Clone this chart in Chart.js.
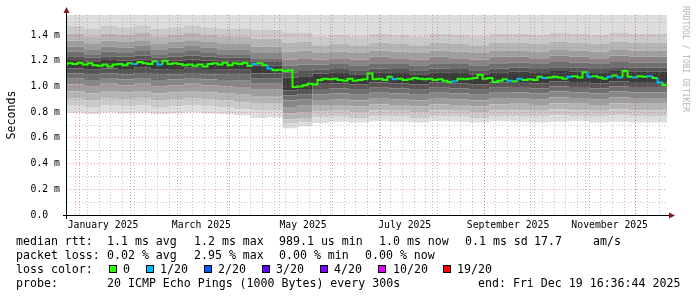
<!DOCTYPE html>
<html lang="en">
<head>
<meta charset="UTF-8">
<title>SmokePing - last 360 days</title>
<script src="https://cdn.jsdelivr.net/npm/chart.js@4.4.1/dist/chart.umd.min.js"></script>
<style>
  html, body { margin: 0; padding: 0; background: #fff; }
  #wrap { width: 697px; height: 297px; }
</style>
</head>
<body>
<div id="wrap"><canvas id="chart" width="697" height="297"></canvas></div>
<script>
// time axis: days since 2025-01-01 00:00, window = last 360 days ending Dec 19 16:36:44
const xStart = -7.31;
const xEnd = 352.69;
const monthStarts = [0, 31, 59, 90, 120, 151, 181, 212, 243, 273, 304, 334];
const xLabelDays = [14.3, 73.3, 134.3, 195.3, 257.3, 318.3];
const xLabels = ['January 2025', 'March 2025', 'May 2025', 'July 2025', 'September 2025', 'November 2025'];

// y axis in ms (labels use the "m" = milli prefix like rrdtool)
const yMax = 1.5556;
const yTickValues = [0, 0.1, 0.2, 0.3, 0.4, 0.5, 0.6, 0.7, 0.8, 0.9, 1.0, 1.1, 1.2, 1.3, 1.4, 1.5];
const yTickLabels = ['0.0  ', '', '0.2 m', '', '0.4 m', '', '0.6 m', '', '0.8 m', '', '1.0 m', '', '1.2 m', '', '1.4 m', ''];

// median rtt (ms)
const medianDays = [-7.3, -4, -1, 2, 5, 8, 11, 14, 17, 20, 23, 26, 29, 32, 35, 38, 41, 44, 47, 50,
  53, 56, 59, 62, 65, 68, 71, 74, 77, 80, 83, 86, 89, 92, 95, 98, 101, 104, 107, 110,
  113, 116, 119, 122, 125, 128, 131, 134, 137, 140, 143, 146, 149, 152, 155, 158, 161, 164, 167, 170,
  173, 176, 179, 182, 185, 188, 191, 194, 197, 200, 203, 206, 209, 212, 215, 218, 221, 224, 227, 230,
  233, 236, 239, 242, 245, 248, 251, 254, 257, 260, 263, 266, 269, 272, 275, 278, 281, 284, 287, 290,
  293, 296, 299, 302, 305, 308, 311, 314, 317, 320, 323, 326, 329, 332, 335, 338, 341, 344, 347, 350, 352.7];
const medianMs = [1.16, 1.18, 1.175, 1.185, 1.17, 1.18, 1.165, 1.16, 1.17, 1.155,
  1.17, 1.175, 1.165, 1.18, 1.175, 1.19, 1.18, 1.175, 1.195, 1.17,
  1.20, 1.175, 1.18, 1.175, 1.165, 1.17, 1.16, 1.17, 1.155, 1.175,
  1.18, 1.17, 1.185, 1.165, 1.18, 1.175, 1.185, 1.16, 1.175, 1.18,
  1.165, 1.14, 1.125, 1.13, 1.12, 1.125, 0.995, 1.0, 1.01, 1.02,
  1.015, 1.05, 1.06, 1.055, 1.06, 1.05, 1.045, 1.06, 1.045, 1.05,
  1.055, 1.10, 1.055, 1.06, 1.05, 1.075, 1.055, 1.06, 1.05, 1.055,
  1.065, 1.06, 1.055, 1.06, 1.05, 1.055, 1.045, 1.035, 1.04, 1.06,
  1.055, 1.06, 1.065, 1.09, 1.06, 1.065, 1.035, 1.045, 1.055, 1.045,
  1.04, 1.06, 1.05, 1.055, 1.05, 1.075, 1.065, 1.07, 1.075, 1.07,
  1.06, 1.075, 1.08, 1.07, 1.11, 1.075, 1.08, 1.07, 1.06, 1.075,
  1.085, 1.07, 1.12, 1.075, 1.07, 1.08, 1.075, 1.08, 1.065, 1.03,
  1.01];
// steps where 1 of 20 pings was lost
const loss1Days = [32, 47, 104, 113, 188, 224, 257, 263, 278, 293, 305, 317, 323, 332, 341, 347];

// smoke: ping spread boundaries (ms), from the lowest ping up; the top pings are clipped by the graph
const smokeDays = [-7.3, 3, 13, 23, 33, 43, 53, 63, 73, 83, 93, 103, 113, 122, 131, 140, 150,
  162, 174, 186, 198, 210, 222, 234, 246, 258, 270, 282, 294, 306, 318, 330, 342, 352.7];
const smokeL0 = [0.79, 0.795, 0.785, 0.80, 0.79, 0.795, 0.785, 0.79, 0.80, 0.79, 0.785, 0.775, 0.755, 0.76, 0.675, 0.69,
  0.715, 0.725, 0.72, 0.73, 0.725, 0.72, 0.73, 0.725, 0.72, 0.73, 0.725, 0.72, 0.725, 0.73, 0.72, 0.725, 0.72, 0.72];
const smokeL1 = [0.845, 0.85, 0.835, 0.855, 0.845, 0.855, 0.835, 0.845, 0.855, 0.845, 0.835, 0.82, 0.81, 0.81, 0.71, 0.72,
  0.76, 0.765, 0.755, 0.77, 0.765, 0.755, 0.77, 0.765, 0.755, 0.77, 0.77, 0.765, 0.775, 0.77, 0.765, 0.775, 0.77, 0.77];
const smokeL2 = [0.90, 0.905, 0.89, 0.91, 0.90, 0.91, 0.89, 0.90, 0.91, 0.90, 0.89, 0.875, 0.865, 0.865, 0.745, 0.755,
  0.805, 0.81, 0.80, 0.815, 0.81, 0.80, 0.815, 0.81, 0.80, 0.815, 0.815, 0.81, 0.82, 0.815, 0.81, 0.82, 0.815, 0.815];
const smokeL3 = [0.955, 0.96, 0.945, 0.965, 0.955, 0.965, 0.945, 0.955, 0.965, 0.955, 0.945, 0.935, 0.92, 0.92, 0.79, 0.80,
  0.85, 0.855, 0.845, 0.86, 0.855, 0.845, 0.86, 0.855, 0.845, 0.86, 0.865, 0.855, 0.87, 0.865, 0.855, 0.87, 0.865, 0.865];
const smokeL4 = [1.01, 1.015, 1.0, 1.02, 1.01, 1.02, 1.0, 1.01, 1.02, 1.01, 1.0, 0.995, 0.975, 0.975, 0.84, 0.85,
  0.895, 0.90, 0.89, 0.905, 0.90, 0.89, 0.905, 0.90, 0.89, 0.905, 0.91, 0.90, 0.915, 0.91, 0.90, 0.915, 0.91, 0.91];
const smokeL5 = [1.055, 1.06, 1.05, 1.065, 1.055, 1.065, 1.05, 1.055, 1.065, 1.055, 1.05, 1.045, 1.02, 1.02, 0.89, 0.90,
  0.94, 0.945, 0.935, 0.95, 0.945, 0.935, 0.95, 0.945, 0.935, 0.95, 0.955, 0.945, 0.96, 0.955, 0.945, 0.96, 0.955, 0.955];
const smokeL6 = [1.095, 1.10, 1.09, 1.10, 1.095, 1.105, 1.09, 1.095, 1.105, 1.095, 1.09, 1.09, 1.06, 1.06, 0.93, 0.94,
  0.98, 0.985, 0.975, 0.99, 0.985, 0.975, 0.99, 0.985, 0.975, 0.99, 0.995, 0.985, 1.0, 0.995, 0.985, 1.0, 0.995, 0.995];
const smokeL7 = [1.135, 1.14, 1.13, 1.14, 1.135, 1.145, 1.13, 1.135, 1.145, 1.135, 1.13, 1.13, 1.10, 1.10, 0.97, 0.98,
  1.02, 1.025, 1.015, 1.03, 1.025, 1.015, 1.03, 1.025, 1.015, 1.03, 1.035, 1.025, 1.04, 1.035, 1.025, 1.04, 1.035, 1.035];
const smokeU7 = [1.20, 1.205, 1.195, 1.205, 1.20, 1.21, 1.195, 1.20, 1.21, 1.20, 1.195, 1.195, 1.16, 1.16, 1.07, 1.08,
  1.10, 1.105, 1.095, 1.11, 1.105, 1.095, 1.11, 1.105, 1.095, 1.11, 1.115, 1.105, 1.12, 1.115, 1.105, 1.12, 1.115, 1.115];
const smokeU6 = [1.23, 1.235, 1.225, 1.235, 1.23, 1.24, 1.225, 1.23, 1.24, 1.23, 1.225, 1.225, 1.19, 1.19, 1.11, 1.12,
  1.13, 1.135, 1.125, 1.14, 1.135, 1.125, 1.14, 1.135, 1.125, 1.14, 1.145, 1.135, 1.15, 1.145, 1.135, 1.15, 1.145, 1.145];
const smokeU5 = [1.26, 1.27, 1.25, 1.27, 1.26, 1.275, 1.25, 1.26, 1.275, 1.26, 1.25, 1.25, 1.22, 1.22, 1.16, 1.17,
  1.17, 1.175, 1.165, 1.18, 1.175, 1.165, 1.18, 1.175, 1.165, 1.18, 1.185, 1.175, 1.19, 1.185, 1.175, 1.19, 1.185, 1.185];
const smokeU4 = [1.30, 1.31, 1.29, 1.31, 1.30, 1.315, 1.29, 1.30, 1.315, 1.30, 1.29, 1.29, 1.26, 1.26, 1.21, 1.22,
  1.21, 1.22, 1.21, 1.23, 1.22, 1.21, 1.23, 1.22, 1.21, 1.23, 1.23, 1.22, 1.24, 1.23, 1.22, 1.24, 1.23, 1.23];
const smokeU3 = [1.345, 1.355, 1.335, 1.355, 1.345, 1.36, 1.335, 1.345, 1.36, 1.345, 1.335, 1.335, 1.31, 1.31, 1.27, 1.28,
  1.26, 1.27, 1.26, 1.28, 1.27, 1.26, 1.28, 1.27, 1.26, 1.28, 1.28, 1.27, 1.29, 1.28, 1.27, 1.29, 1.28, 1.28];
const smokeU2 = [1.40, 1.41, 1.39, 1.41, 1.40, 1.415, 1.39, 1.40, 1.415, 1.40, 1.39, 1.39, 1.37, 1.37, 1.34, 1.35,
  1.32, 1.33, 1.32, 1.34, 1.33, 1.32, 1.34, 1.33, 1.32, 1.34, 1.34, 1.33, 1.35, 1.34, 1.33, 1.35, 1.34, 1.34];
const smokeU1 = [1.46, 1.47, 1.45, 1.47, 1.46, 1.475, 1.45, 1.46, 1.475, 1.46, 1.45, 1.45, 1.44, 1.44, 1.42, 1.42,
  1.39, 1.40, 1.39, 1.41, 1.40, 1.39, 1.41, 1.40, 1.39, 1.41, 1.41, 1.40, 1.42, 1.41, 1.40, 1.42, 1.41, 1.41];

// legend
const rttStats = ['1.1 ms avg', '1.2 ms max', '989.1 us min', '1.0 ms now', '0.1 ms sd', '17.7', 'am/s'];
const lossStats = ['0.02 % avg', '2.95 % max', '0.00 % min', '0.00 % now'];
const lossLabels = ['0', '1/20', '2/20', '3/20', '4/20', '10/20', '19/20'];
const lossColors = ['#26ff00', '#00b8ff', '#0059ff', '#5e00ff', '#7e00ff', '#dd00ff', '#ff0000'];
const probeText = '20 ICMP Echo Pings (1000 Bytes) every 300s';
const endText = 'end: Fri Dec 19 16:36:44 2025';

const MONO = "'DejaVu Sans Mono', monospace";
const MAJOR = 'rgba(222, 80, 80, 0.55)';
const MINOR = 'rgba(140, 140, 140, 0.5)';

function points(days, vals) {
    return days.map((d, i) => ({ x: d, y: vals[i] }));
}

function smokeSet(vals, color, fill) {
    return {
        data: points(smokeDays, vals),
        stepped: 'after',
        borderWidth: 0,
        borderColor: 'transparent',
        backgroundColor: color,
        pointRadius: 0,
        fill: fill
    };
}

// outer band lightest, core darkest (smokeping style)
const shades = ['#dddddd', '#cacaca', '#b5b5b5', '#9e9e9e', '#878787', '#6e6e6e', '#555555', '#3a3a3a'];

const datasets = [
    smokeSet(smokeL0, 'transparent', false),
    smokeSet(smokeL1, shades[0], '-1'),
    smokeSet(smokeL2, shades[1], '-1'),
    smokeSet(smokeL3, shades[2], '-1'),
    smokeSet(smokeL4, shades[3], '-1'),
    smokeSet(smokeL5, shades[4], '-1'),
    smokeSet(smokeL6, shades[5], '-1'),
    smokeSet(smokeL7, shades[6], '-1'),
    smokeSet(smokeU7, shades[7], '-1'),
    smokeSet(smokeU6, shades[6], '-1'),
    smokeSet(smokeU5, shades[5], '-1'),
    smokeSet(smokeU4, shades[4], '-1'),
    smokeSet(smokeU3, shades[3], '-1'),
    smokeSet(smokeU2, shades[2], '-1'),
    smokeSet(smokeU1, shades[1], '-1'),
    smokeSet(smokeU1, shades[0], 'end'),
    {
        data: points(medianDays, medianMs),
        order: -1,
        stepped: 'after',
        borderWidth: 2,
        borderColor: lossColors[0],
        pointRadius: 0,
        fill: false,
        segment: {
            borderColor: c => loss1Days.includes(medianDays[c.p0DataIndex]) ? lossColors[1] : lossColors[0]
        }
    }
];

// axis lines with arrows, rrdtool watermark and the text legend
const decorations = {
    id: 'decorations',
    afterDraw(chart) {
        const ctx = chart.ctx;
        const a = chart.chartArea;
        ctx.save();

        ctx.strokeStyle = '#000';
        ctx.lineWidth = 1;
        ctx.beginPath();
        ctx.moveTo(a.left - 4, a.bottom + 0.5);
        ctx.lineTo(a.right + 3, a.bottom + 0.5);
        ctx.moveTo(a.left - 0.5, a.bottom + 4);
        ctx.lineTo(a.left - 0.5, a.top - 3);
        ctx.stroke();

        ctx.fillStyle = '#7f1d1d';
        ctx.beginPath();
        ctx.moveTo(a.right + 2, a.bottom - 2.5);
        ctx.lineTo(a.right + 8, a.bottom + 0.5);
        ctx.lineTo(a.right + 2, a.bottom + 3.5);
        ctx.closePath();
        ctx.fill();
        ctx.beginPath();
        ctx.moveTo(a.left - 3.5, a.top - 2);
        ctx.lineTo(a.left - 0.5, a.top - 8);
        ctx.lineTo(a.left + 2.5, a.top - 2);
        ctx.closePath();
        ctx.fill();

        // watermark
        ctx.save();
        ctx.translate(685, 6);
        ctx.rotate(Math.PI / 2);
        ctx.font = '8px ' + MONO;
        ctx.fillStyle = '#b4b4b4';
        ctx.textBaseline = 'middle';
        ctx.fillText('RRDTOOL / TOBI OETIKER', 0, 0);
        ctx.restore();

        // legend
        ctx.font = '11.6px ' + MONO;
        ctx.fillStyle = '#000';
        ctx.textBaseline = 'alphabetic';
        ctx.fillText('median rtt:', 16, 245);
        [107, 194, 279, 379, 465, 534, 593].forEach((x, i) => ctx.fillText(rttStats[i], x, 245));
        ctx.fillText('packet loss:', 16, 259);
        [107, 194, 279, 365].forEach((x, i) => ctx.fillText(lossStats[i], x, 259));
        ctx.fillText('loss color:', 16, 273);
        const boxX = [109, 146, 204, 262, 320, 378, 443];
        const labX = [123, 160, 218, 276, 334, 393, 457];
        lossLabels.forEach((lab, i) => {
            ctx.fillStyle = lossColors[i];
            ctx.fillRect(boxX[i], 265, 8, 8);
            ctx.strokeStyle = '#000';
            ctx.strokeRect(boxX[i] + 0.5, 265.5, 7, 7);
            ctx.fillStyle = '#000';
            ctx.fillText(lab, labX[i], 273);
        });
        ctx.fillText('probe:', 16, 287);
        ctx.fillText(probeText, 107, 287);
        ctx.fillText(endText, 478, 287);

        ctx.restore();
    }
};

const weekDays = [];
for (let d = -2; d <= xEnd; d += 7) weekDays.push(d);

new Chart(document.getElementById('chart'), {
    type: 'line',
    data: { datasets: datasets },
    options: {
        responsive: false,
        animation: false,
        devicePixelRatio: 1,
        layout: { padding: { left: 0, right: 30, top: 0, bottom: 0 } },
        plugins: { legend: { display: false }, tooltip: { enabled: false } },
        scales: {
            x: {
                type: 'linear',
                position: 'bottom',
                min: xStart,
                max: xEnd,
                afterBuildTicks: s => { s.ticks = xLabelDays.map(v => ({ value: v })); },
                afterFit: s => { s.height = 82; },
                grid: { display: false, drawTicks: false },
                border: { display: false },
                ticks: {
                    autoSkip: false,
                    maxRotation: 0,
                    padding: 5,
                    color: '#000',
                    font: { family: MONO, size: 9.8 },
                    callback: (v, i) => xLabels[i]
                }
            },
            xg: {
                type: 'linear',
                position: 'top',
                min: xStart,
                max: xEnd,
                afterBuildTicks: s => {
                    const all = weekDays.concat(monthStarts).sort((p, q) => p - q);
                    s.ticks = all.map(v => ({ value: v }));
                },
                afterFit: s => { s.height = 15; },
                grid: {
                    drawTicks: false,
                    z: 1,
                    color: c => monthStarts.includes(c.tick.value) ? MAJOR : MINOR
                },
                border: { display: false, dash: [1, 2] },
                ticks: { display: false }
            },
            y: {
                type: 'linear',
                min: 0,
                max: yMax,
                afterBuildTicks: s => { s.ticks = yTickValues.map(v => ({ value: v })); },
                afterFit: s => { s.width = 67; },
                grid: {
                    drawTicks: false,
                    z: 1,
                    color: c => (c.index % 2 === 0) ? MAJOR : MINOR
                },
                border: { display: false, dash: [1, 2] },
                title: {
                    display: true,
                    text: 'Seconds',
                    color: '#000',
                    font: { family: MONO, size: 11.6 },
                    padding: { top: 5, bottom: 0 }
                },
                ticks: {
                    autoSkip: false,
                    padding: 7,
                    color: '#000',
                    font: { family: MONO, size: 9.8 },
                    callback: (v, i) => yTickLabels[i]
                }
            }
        }
    },
    plugins: [decorations]
});
</script>
</body>
</html>
